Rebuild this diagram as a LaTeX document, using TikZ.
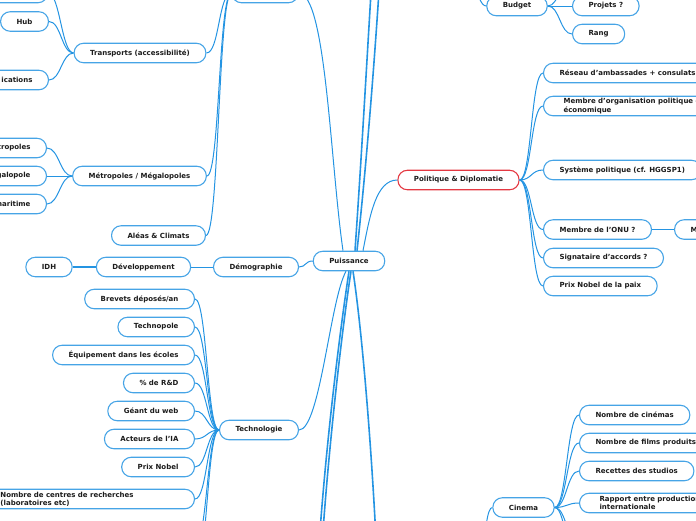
\documentclass[tikz,border=0pt]{standalone}
\usepackage{fontspec}
\setsansfont{DejaVu Sans}
\definecolor{mapblue}{RGB}{70,164,230}
\definecolor{linkblue}{RGB}{36,148,226}
\definecolor{mapred}{RGB}{228,56,66}
\definecolor{maptext}{RGB}{28,28,28}

\begin{document}
\begin{tikzpicture}[x=1pt, y=-1pt,
    topic/.style={draw=mapblue, line width=1.1pt, rounded corners=9.5pt, fill=white,
        minimum height=19.5pt, inner xsep=16pt, inner ysep=2pt, text=maptext,
        font=\sffamily\bfseries\fontsize{7}{8.4}\selectfont},
    redtopic/.style={topic, draw=mapred},
    cuttopic/.style={topic, text width=60pt, align=right},
    twoline/.style={topic, align=left, inner xsep=20pt},
    link/.style={draw=linkblue, line width=1pt},
    trunk/.style={draw=linkblue, line width=1.6pt}
]

\useasboundingbox (0,0) rectangle (696,520);
\clip (0,0) rectangle (696,520);

% --- liens courbes (parent -> enfant) ---
% #1=ancre de depart, #2=ancre d'arrivee, #3=tangente horizontale
\newcommand{\linkL}[3]{\draw[link] (#1) .. controls +(-#3,0) and +(#3,0) .. (#2);}
\newcommand{\linkR}[3]{\draw[link] (#1) .. controls +(#3,0) and +(-#3,0) .. (#2);}

% === Centre ===
\node[topic] (puissance) at (349,261) {Puissance};

% === Branche haut-gauche (geographie) ===
\node[topic, minimum width=66pt] (geo) at (265,-7) {};
\node[topic] (transports) at (140,53) {Transports (accessibilité)};
\node[topic, anchor=east, minimum width=70pt] (trtop) at (48,-7) {};
\node[topic, anchor=east] (hub) at (49,21.5) {Hub};
\node[cuttopic, anchor=east] (telecom) at (49,80) {ications};
\node[topic] (metropoles) at (139.5,176) {Métropoles / Mégalopoles};
\node[cuttopic, anchor=east] (metro) at (47,148) {tropoles};
\node[cuttopic, anchor=east] (megalo) at (47,176) {galopole};
\node[cuttopic, anchor=east] (facade) at (47,204) {maritime};
\node[topic] (aleas) at (158.5,235.5) {Aléas \& Climats};

% === Demographie ===
\node[topic] (demo) at (256,267) {Démographie};
\node[topic] (devel) at (143.5,267) {Développement};
\node[topic] (idh) at (49,267) {IDH};

% === Technologie ===
\node[topic] (tech) at (259,430) {Technologie};
\node[topic, anchor=east] (brevets) at (195,299) {Brevets déposés/an};
\node[topic, anchor=east] (technopole) at (195,327) {Technopole};
\node[topic, anchor=east] (ecoles) at (195,355) {Équipement dans les écoles};
\node[topic, anchor=east] (rd) at (195,383) {\% de R\&D};
\node[topic, anchor=east] (web) at (195,411) {Géant du web};
\node[topic, anchor=east] (ia) at (195,439) {Acteurs de l’IA};
\node[topic, anchor=east] (nobel) at (195,467) {Prix Nobel};
\node[twoline, anchor=east, text width=174pt] (centres) at (195,499)
    {Nombre de centres de recherches\\(laboratoires etc)};
\coordinate (techmoreA) at (195,545);
\coordinate (techmoreB) at (195,575);

% === Politique & Diplomatie ===
\node[redtopic] (politique) at (458.5,180) {Politique \& Diplomatie};
\node[topic, anchor=west] (ambassades) at (543,73) {Réseau d'ambassades + consulats};
\node[twoline, anchor=west] (organisation) at (543,106)
    {Membre d’organisation politique et\\économique};
\node[topic, anchor=west] (systeme) at (543,170) {Système politique (cf. HGGSP1)};
\node[topic, anchor=west] (onu) at (543,229.5) {Membre de l’ONU ?};
\node[topic, anchor=west, text width=40pt, align=left] (onuplus) at (674,229.5) {M};
\node[topic, anchor=west] (accords) at (543,258) {Signataire d’accords ?};
\node[topic, anchor=west] (nobelpaix) at (543,286) {Prix Nobel de la paix};

% === Budget ===
\node[topic] (budget) at (517,6) {Budget};
\node[topic, anchor=west] (projets) at (572,6) {Projets ?};
\node[topic, anchor=west] (rang) at (572,34) {Rang};
\coordinate (budgetin) at (462,-50);
\coordinate (budgetup) at (572,-24);

% === Cinema ===
\node[topic] (cinema) at (523.5,507.5) {Cinema};
\node[topic, anchor=west] (cinemas) at (579,415) {Nombre de cinémas};
\node[topic, anchor=west] (films) at (579,443) {Nombre de films produits};
\node[topic, anchor=west] (recettes) at (579,471) {Recettes des studios};
\node[twoline, anchor=west] (rapport) at (579,503)
    {Rapport entre production\\internationale};
\coordinate (cinemain) at (474,600);
\coordinate (cinemoreA) at (579,545);
\coordinate (cinemoreB) at (579,575);

% === Troncs hors cadre ===
\coordinate (upA) at (373,-40);
\coordinate (upB) at (381,-40);
\coordinate (downA) at (318,560);
\coordinate (downB) at (321,560);
\coordinate (downC) at (377,560);

% === Liens depuis le centre ===
\draw[link] (puissance.north) ++(-6,0) .. controls (330,160) and (326,-7) .. (geo.east);
\draw[link] (puissance.north) ++(14,0) .. controls (370,215) and (376,180) .. (politique.west);
\draw[link] (demo.east) .. controls (306,267) and (305,261) .. (puissance.west);
\draw[link] (puissance.south) ++(-3,0) .. controls (330,300) and (320,430) .. (tech.east);
\draw[trunk] (puissance.north) ++(6,0) .. controls (362,150) and (368,40) .. (upA);
\draw[trunk] (puissance.north) ++(8,0) .. controls (368,150) and (376,40) .. (upB);
\draw[trunk] (puissance.south) .. controls (340,330) and (325,450) .. (downA);
\draw[trunk] (puissance.south) ++(2,0) .. controls (342,330) and (328,450) .. (downB);
\draw[trunk] (puissance.south) ++(4,0) .. controls (362,330) and (372,450) .. (downC);

% === Liens geographie ===
\linkL{geo.west}{transports.east}{13}
\linkL{geo.west}{metropoles.east}{13}
\linkL{geo.west}{aleas.east}{13}
\linkL{transports.west}{trtop.east}{12}
\linkL{transports.west}{hub.east}{12}
\linkL{transports.west}{telecom.east}{12}
\linkL{metropoles.west}{metro.east}{12}
\linkL{metropoles.west}{megalo.east}{12}
\linkL{metropoles.west}{facade.east}{12}

% === Liens demographie ===
\draw[link] (devel.east) -- (demo.west);
\draw[trunk] (idh.east) -- (devel.west);

% === Liens technologie ===
\foreach \child in {brevets,technopole,ecoles,rd,web,ia,nobel,centres}
    {\linkL{tech.west}{\child.east}{12}}
\linkL{tech.west}{techmoreA}{12}
\linkL{tech.west}{techmoreB}{12}

% === Liens politique ===
\foreach \child in {ambassades,organisation,systeme,onu,accords,nobelpaix}
    {\linkR{politique.east}{\child.west}{12}}
\draw[trunk] (onu.east) -- (onuplus.west);

% === Liens budget ===
\linkR{budgetin}{budget.west}{12}
\linkR{budget.east}{projets.west}{12}
\linkR{budget.east}{rang.west}{12}
\linkR{budget.east}{budgetup}{12}

% === Liens cinema ===
\linkR{cinemain}{cinema.west}{10}
\foreach \child in {cinemas,films,recettes,rapport}
    {\linkR{cinema.east}{\child.west}{12}}
\linkR{cinema.east}{cinemoreA}{12}
\linkR{cinema.east}{cinemoreB}{12}

\end{tikzpicture}
\end{document}
